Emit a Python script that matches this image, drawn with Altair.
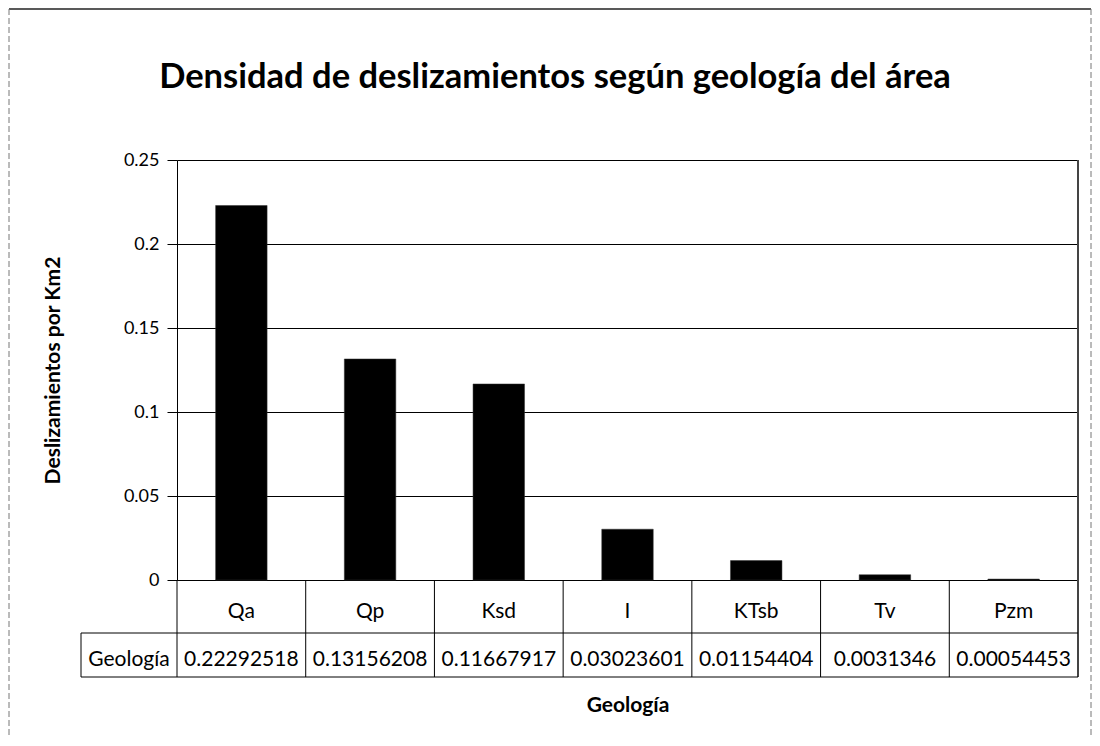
import altair as alt
import pandas as pd

categories = ["Qa", "Qp", "Ksd", "I", "KTsb", "Tv", "Pzm"]
values = [0.22292518, 0.13156208, 0.11667917, 0.03023601, 0.01154404, 0.0031346, 0.00054453]
value_labels = ["0.22292518", "0.13156208", "0.11667917", "0.03023601",
                "0.01154404", "0.0031346", "0.00054453"]
y_ticks = [0, 0.05, 0.1, 0.15, 0.2, 0.25]
title_text = ["Densidad de deslizamientos según geología del área"]
row_header_text = ["Geología"]

df = pd.DataFrame({"cat": categories, "val": values, "lab": value_labels})
one = pd.DataFrame({"k": [0]})

W, H = 901, 420
FONT = "Lato"

xscale = alt.Scale(domain=categories, paddingInner=0.6, paddingOuter=0.3)
tscale = alt.Scale(domain=categories, paddingInner=0, paddingOuter=0)

x_main = alt.X(
    "cat:N", sort=categories, scale=xscale,
    axis=alt.Axis(
        title="Geología", labelFontSize=21, labelFont=FONT, labelColor="black",
        labelAngle=0, labelPadding=20, ticks=False, domainColor="black",
        titleFont=FONT, titleFontSize=21, titleFontWeight="bold",
        titlePadding=73, titleColor="black", grid=False,
    ),
)
y_main = alt.Y(
    "val:Q", scale=alt.Scale(domain=[0, 0.25], nice=False),
    axis=alt.Axis(
        values=y_ticks, format="~g", title="Deslizamientos por Km2",
        labelFont=FONT, labelFontSize=18, labelColor="black", labelPadding=8,
        tickSize=10, tickColor="black", domainColor="black",
        gridColor="black", gridOpacity=1, grid=True,
        titleFont=FONT, titleFontSize=21, titleFontWeight="bold",
        titleColor="black", titlePadding=60,
    ),
)

bars = alt.Chart(df).mark_bar(color="black", stroke="#333", strokeWidth=0.5).encode(
    x=x_main, y=y_main
)

value_row = alt.Chart(df).mark_text(
    font=FONT, fontSize=21, color="black", baseline="middle", align="center"
).encode(
    x=alt.X("cat:N", sort=categories, scale=tscale, axis=None, bandPosition=0.5),
    y=alt.value(500), text="lab:N",
)

vlines = alt.Chart(df).mark_rule(color="black", strokeWidth=1).encode(
    x=alt.X("cat:N", sort=categories, scale=tscale, axis=None, bandPosition=0),
    y=alt.value(H), y2=alt.value(517),
)

table = alt.layer(value_row, vlines)

row_header = alt.Chart(pd.DataFrame({"t": row_header_text})).mark_text(
    font=FONT, fontSize=21, color="black", baseline="middle", align="center"
).encode(x=alt.value(-48), y=alt.value(500), text="t:N")

title_mark = alt.Chart(pd.DataFrame({"t": title_text})).mark_text(
    font=FONT, fontSize=34.5, fontWeight="bold", color="black",
    baseline="middle", align="center"
).encode(x=alt.value(378), y=alt.value(-82), text="t:N")

right_line = alt.Chart(one).mark_rule(color="#444", strokeWidth=2).encode(
    x=alt.value(W), y=alt.value(0), y2=alt.value(517)
)
left_header_line = alt.Chart(one).mark_rule(color="black", strokeWidth=1).encode(
    x=alt.value(-96), y=alt.value(473), y2=alt.value(517)
)
mid_line = alt.Chart(one).mark_rule(color="black", strokeWidth=1).encode(
    x=alt.value(-96), x2=alt.value(W), y=alt.value(473)
)
bottom_line = alt.Chart(one).mark_rule(color="black", strokeWidth=1).encode(
    x=alt.value(-96), x2=alt.value(W), y=alt.value(517)
)

border_top = alt.Chart(one).mark_rule(color="#222", strokeWidth=1.5).encode(
    x=alt.value(-168), x2=alt.value(914), y=alt.value(-151)
)
border_left = alt.Chart(one).mark_rule(color="#777", strokeWidth=1, strokeDash=[6, 3]).encode(
    x=alt.value(-168), y=alt.value(-151), y2=alt.value(600)
)
border_right = alt.Chart(one).mark_rule(color="#777", strokeWidth=1, strokeDash=[6, 3]).encode(
    x=alt.value(914), y=alt.value(-151), y2=alt.value(600)
)

chart = alt.layer(
    bars, table, row_header, title_mark, right_line, left_header_line,
    mid_line, bottom_line, border_top, border_left, border_right,
).resolve_scale(x="independent").properties(
    width=W, height=H,
    autosize=alt.AutoSizeParams(type="none"),
    padding={"left": 169, "top": 152, "right": 14, "bottom": 158},
).configure_view(
    stroke="black", strokeWidth=1
).configure(background="white")

chart.save("out.html", embed_options={"renderer": "svg", "actions": False})
